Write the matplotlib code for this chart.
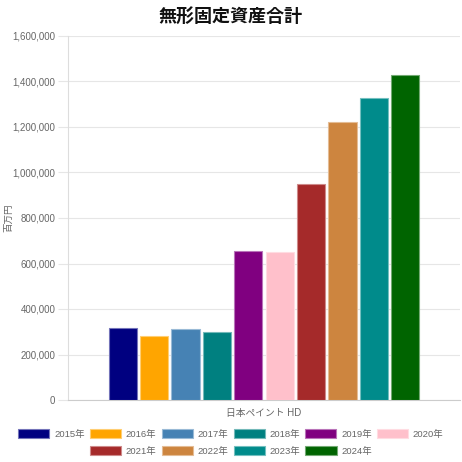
import matplotlib
matplotlib.use("Agg")
import matplotlib.pyplot as plt
import matplotlib.colors as mcolors
from matplotlib.patches import Patch
from matplotlib.ticker import FuncFormatter, MultipleLocator

plt.rcParams['font.family'] = ['Liberation Sans', 'Noto Sans CJK JP', 'DejaVu Sans']

category = "日本ペイント HD"
years = ["2015年", "2016年", "2017年", "2018年", "2019年",
         "2020年", "2021年", "2022年", "2023年", "2024年"]
values = [316000, 280000, 311000, 298000, 656000,
          651000, 950000, 1223000, 1327000, 1427000]
colors = ["#000080", "#FFA500", "#4682B4", "#008080", "#800080",
          "#FFC0CB", "#A52A2A", "#CD853F", "#008B8B", "#006400"]

def lighter(c, f=0.45):
    r, g, b = mcolors.to_rgb(c)
    return (r + (1 - r) * f, g + (1 - g) * f, b + (1 - b) * f)

fig = plt.figure(figsize=(4.62, 4.62), dpi=100)
ax = fig.add_axes([68 / 462, 62 / 462, 392 / 462, 364 / 462])

n = len(years)
group = 0.8
slot = group / n
bw = slot * 0.9
for i, (y, v, c) in enumerate(zip(years, values, colors)):
    x = -group / 2 + slot * (i + 0.5)
    ax.bar(x, v, width=bw, color=c, edgecolor=lighter(c), linewidth=0.8, zorder=3)

ax.set_xlim(-0.5, 0.5)
ax.set_ylim(0, 1600000)
ax.yaxis.set_major_locator(MultipleLocator(200000))
ax.yaxis.set_major_formatter(FuncFormatter(lambda v, p: f"{int(v):,}"))
ax.set_xticks([0])
ax.set_xticklabels([category])
ax.tick_params(axis='x', length=0, pad=6, labelsize=7, labelcolor='#666666')
ax.tick_params(axis='y', length=7, color='#e6e6e6', pad=2, labelsize=7, labelcolor='#666666')
ax.grid(axis='y', color='#e6e6e6', linewidth=0.8, zorder=0)
for s in ['top', 'right']:
    ax.spines[s].set_visible(False)
ax.spines['left'].set_color('#dddddd')
ax.spines['left'].set_linewidth(0.8)
ax.spines['bottom'].set_color('#cccccc')
ax.spines['bottom'].set_linewidth(0.8)

ax.set_ylabel("百万円", fontsize=6.8, color='#666666', labelpad=6)
ax.yaxis.set_label_coords(-55 / 392, 0.5)

fig.text(0.5, 1 - 17 / 462, "無形固定資産合計", ha='center', va='center',
         fontsize=13, fontweight='bold', color='#111111')

handles = [Patch(facecolor=c, edgecolor=lighter(c), linewidth=0.8, label=y)
           for y, c in zip(years, colors)]
common = dict(frameon=False, fontsize=6.8, handlelength=3.3, handleheight=1.0,
              handletextpad=0.5, columnspacing=0.55, labelcolor='#666666',
              borderpad=0, borderaxespad=0)
leg1 = fig.legend(handles=handles[:6], ncol=6, loc='center',
                  bbox_to_anchor=(0.5, 1 - 434 / 462), **common)
leg2 = fig.legend(handles=handles[6:], ncol=4, loc='center',
                  bbox_to_anchor=(0.5, 1 - 451 / 462), **common)

fig.savefig("out.png", dpi=100)
